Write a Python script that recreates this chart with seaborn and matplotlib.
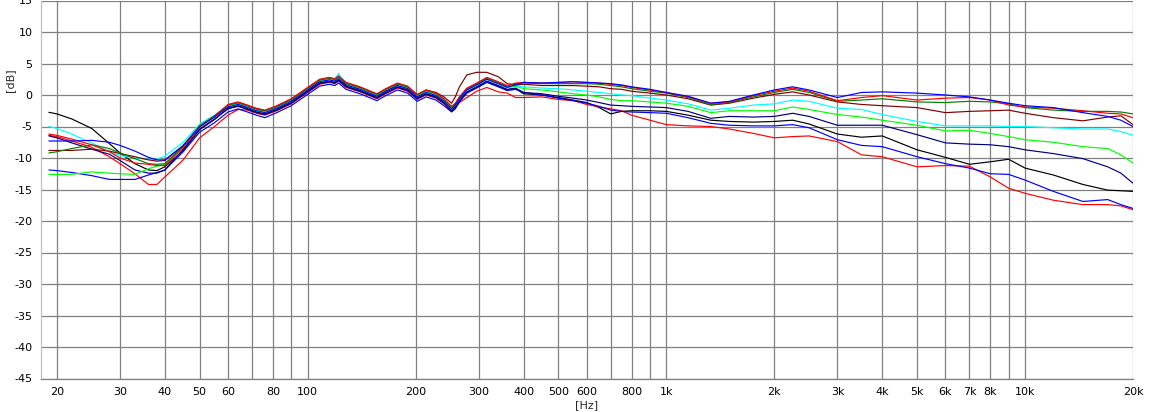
import matplotlib
matplotlib.use("Agg")
import matplotlib.pyplot as plt
import matplotlib.ticker as mticker
import numpy as np
import pandas as pd
import seaborn as sns

# ---------------- data ----------------
freq = [19, 20, 22, 25, 28, 30, 33, 36, 38, 40,
        45, 50, 55, 60,
        64, 68, 72, 76, 82, 90, 100, 108, 115, 119, 122, 128, 140, 156, 165, 178, 190, 202, 214, 228, 240, 252,
        258, 265, 278, 296, 316, 340, 360, 380,
        400, 450, 500, 550, 600, 650, 700, 750, 800, 900, 1000, 1150, 1330, 1500, 1750, 2000,
        2250, 2500, 3000, 3500, 4000, 5000, 6000, 7000, 8000, 9000, 10000, 12000, 14500, 17000, 18500, 20000]

blue_a = [-7.3, -7.3, -7.3, -7.2, -7.5, -8.0, -8.9, -9.9, -10.3, -10.3,
          -8.0, -5.0, -3.5, -1.9,
          -1.5, -2.0, -2.5, -2.8, -2.1, -1.0, 0.8, 2.1, 2.4, 2.2, 2.6, 1.6, 0.9, -0.2, 0.6, 1.5, 1.0, -0.3, 0.4, -0.1, -1.0, -2.2,
          -1.6, -0.6, 0.8, 1.6, 2.5, 1.8, 1.2, 1.6,
          2.0, 1.9, 2.0, 2.1, 2.0, 1.9, 1.8, 1.6, 1.3, 0.9, 0.4, -0.2, -1.3, -1.0, 0.0, 0.8,
          1.3, 0.8, -0.4, 0.4, 0.5, 0.3, 0.0, -0.3, -0.8, -1.3, -1.7, -2.0, -2.8, -3.4, -4.0, -5.0]

red_a = [-6.2, -6.4, -7.0, -7.9, -9.0, -10.0, -10.8, -11.0, -11.2, -11.2,
         -8.3, -5.1, -3.4, -1.5,
         -1.1, -1.6, -2.1, -2.4, -1.7, -0.6, 1.2, 2.5, 2.8, 2.6, 3.0, 2.0, 1.3, 0.2, 1.0, 1.9, 1.4, 0.1, 0.8, 0.3, -0.6, -1.8,
         -1.3, -0.3, 1.1, 1.9, 2.8, 2.1, 1.5, 1.9,
         2.0, 1.9, 2.0, 2.1, 2.0, 1.9, 1.7, 1.5, 1.2, 0.8, 0.4, -0.3, -1.3, -1.1, -0.1, 0.6,
         1.1, 0.6, -0.9, -0.4, -0.1, -0.8, -0.5, -0.4, -0.8, -1.6, -1.9, -2.1, -2.5, -2.9, -3.0, -3.6]

dkgreen = [-9.2, -9.0, -8.5, -7.9, -8.5, -9.2, -10.1, -10.9, -11.0, -10.9,
           -8.2, -4.9, -3.3, -1.6,
           -1.2, -1.7, -2.2, -2.5, -1.8, -0.7, 1.1, 2.4, 2.7, 2.5, 2.9, 1.9, 1.2, 0.1, 0.9, 1.8, 1.3, 0.0, 0.7, 0.2, -0.7, -1.9,
           -1.4, -0.4, 1.0, 1.8, 2.7, 2.0, 1.4, 1.8,
           1.9, 1.8, 1.8, 1.8, 1.8, 1.7, 1.5, 1.3, 1.0, 0.6, 0.3, -0.4, -1.5, -1.2, -0.3, 0.4,
           0.9, 0.4, -1.0, -0.8, -0.6, -1.1, -1.2, -1.0, -1.1, -1.4, -2.0, -2.4, -2.6, -2.6, -2.7, -3.0]

brown = [-8.8, -8.8, -8.8, -8.6, -8.9, -9.3, -9.8, -10.3, -10.5, -10.4,
         -8.1, -5.0, -3.4, -1.6,
         -1.2, -1.7, -2.2, -2.5, -1.8, -0.7, 1.1, 2.4, 2.7, 2.5, 2.9, 1.9, 1.2, 0.1, 0.9, 1.8, 1.3, 0.0, 0.8, 0.4, -0.3, -1.3,
         -0.3, 1.3, 3.2, 3.6, 3.6, 2.9, 1.8, 1.6,
         1.7, 1.5, 1.5, 1.5, 1.4, 1.3, 1.0, 0.9, 0.6, 0.3, 0.0, -0.6, -1.6, -1.3, -0.5, 0.1,
         0.5, 0.0, -1.1, -1.5, -1.7, -2.0, -2.8, -2.6, -2.5, -2.4, -2.9, -3.6, -4.1, -3.5, -3.3, -4.7]

cyan = [-5.0, -5.3, -6.2, -7.6, -9.0, -9.6, -10.0, -10.2, -10.2, -9.7,
        -7.5, -4.6, -3.2, -1.6,
        -1.3, -1.8, -2.3, -2.6, -1.9, -0.8, 1.0, 2.3, 2.6, 2.5, 3.4, 1.8, 1.1, 0.0, 0.8, 1.7, 1.2, -0.1, 0.6, 0.1, -0.8, -2.0,
        -1.5, -0.5, 0.9, 1.7, 2.6, 1.9, 1.3, 1.5,
        1.3, 1.1, 1.0, 0.8, 0.6, 0.4, 0.2, 0.0, -0.1, -0.5, -0.8, -1.4, -2.4, -2.1, -1.6, -1.4,
        -0.8, -1.0, -2.1, -2.3, -3.1, -4.2, -4.9, -4.9, -4.9, -5.0, -5.0, -5.2, -5.4, -5.4, -5.8, -6.4]

green = [-12.6, -12.6, -12.6, -12.2, -12.4, -12.5, -12.6, -11.7, -11.3, -11.0,
         -8.0, -4.8, -3.3, -1.7,
         -1.4, -1.9, -2.4, -2.7, -2.0, -0.9, 0.9, 2.2, 2.5, 2.3, 3.1, 1.7, 1.0, -0.1, 0.7, 1.6, 1.1, -0.2, 0.5, 0.0, -0.9, -2.1,
         -1.6, -0.6, 0.8, 1.6, 2.5, 1.8, 1.2, 1.4,
         1.0, 0.8, 0.5, 0.2, 0.0, -0.3, -0.7, -0.9, -0.9, -1.1, -1.3, -1.8, -2.8, -2.5, -2.5, -2.5,
         -1.9, -2.3, -3.1, -3.5, -4.0, -4.8, -5.7, -5.6, -6.1, -6.6, -7.1, -7.5, -8.2, -8.5, -9.5, -10.8]

navy = [-6.5, -6.8, -7.6, -8.6, -9.4, -10.4, -11.9, -12.4, -12.4, -11.9,
        -8.6, -5.4, -3.8, -2.2,
        -1.8, -2.3, -2.8, -3.1, -2.4, -1.3, 0.5, 1.8, 2.1, 1.9, 2.3, 1.3, 0.6, -0.5, 0.3, 1.2, 0.7, -0.6, 0.1, -0.4, -1.3, -2.5,
        -1.9, -0.9, 0.5, 1.3, 2.2, 1.5, 0.9, 1.1,
        0.4, 0.2, -0.2, -0.5, -0.8, -1.2, -1.6, -1.7, -1.8, -1.9, -2.0, -2.6, -3.7, -3.4, -3.5, -3.4,
        -2.9, -3.4, -4.8, -4.8, -4.8, -6.3, -7.6, -7.8, -7.9, -8.2, -8.7, -9.3, -10.1, -11.4, -12.4, -14.0]

black = [-2.75, -3.0, -3.8, -5.3, -7.7, -9.2, -10.9, -11.9, -12.0, -11.4,
         -8.8, -5.5, -3.9, -2.1,
         -1.7, -2.2, -2.7, -3.0, -2.3, -1.2, 0.6, 1.9, 2.2, 2.0, 2.4, 1.4, 0.7, -0.4, 0.4, 1.3, 0.8, -0.5, 0.2, -0.3, -1.2, -2.6,
         -2.1, -1.0, 0.4, 1.2, 2.1, 1.4, 0.8, 1.0,
         0.2, 0.0, -0.4, -0.8, -1.2, -2.0, -3.0, -2.6, -2.5, -2.5, -2.6, -3.2, -4.0, -4.2, -4.3, -4.2,
         -4.0, -4.6, -6.2, -6.7, -6.5, -8.7, -9.9, -11.0, -10.6, -10.2, -11.6, -12.7, -14.2, -15.1, -15.2, -15.3]

blue_b = [-11.9, -12.0, -12.3, -12.8, -13.4, -13.4, -13.4, -12.7, -12.3, -11.9,
          -9.0, -5.9, -4.4, -2.7,
          -2.2, -2.7, -3.2, -3.6, -2.8, -1.7, 0.1, 1.4, 1.7, 1.5, 1.9, 0.9, 0.2, -0.9, -0.1, 0.8, 0.3, -1.0, -0.3, -0.8, -1.7, -2.7,
          -2.2, -1.1, 0.3, 1.1, 2.0, 1.3, 0.7, 0.9,
          0.4, 0.0, -0.5, -0.9, -1.3, -1.8, -2.4, -2.6, -2.7, -2.8, -2.9, -3.6, -4.5, -4.8, -4.9, -4.9,
          -4.7, -5.2, -7.1, -8.0, -8.2, -9.8, -10.9, -11.6, -12.5, -12.6, -13.5, -15.3, -16.9, -16.6, -17.4, -18.0]

red_b = [-6.4, -6.6, -7.3, -8.3, -9.8, -10.9, -12.5, -14.2, -14.2, -13.0,
         -10.3, -6.8, -5.0, -3.2,
         -2.3, -2.4, -2.9, -3.2, -2.5, -1.4, 0.4, 1.7, 2.0, 1.8, 2.2, 1.2, 0.5, -0.6, 0.2, 1.1, 0.6, -0.7, 0.0, -0.5, -1.4, -2.5,
         -1.9, -1.2, -0.4, 0.6, 1.2, 0.5, 0.3, -0.4,
         -0.4, -0.3, -0.7, -0.9, -1.5, -1.9, -2.2, -2.5, -3.2, -4.0, -4.7, -4.9, -5.0, -5.4, -6.1, -6.8,
         -6.6, -6.5, -7.4, -9.5, -9.8, -11.4, -11.2, -11.3, -13.0, -14.8, -15.6, -16.7, -17.4, -17.4, -17.6, -18.2]

series = {
    "c08": black, "c10": red_b, "c09": blue_b, "c07": navy, "c06": green,
    "c05": cyan, "c04": brown, "c03": dkgreen, "c02": red_a, "c01": blue_a,
}
colors = {
    "c01": "#0000FF", "c02": "#FF0000", "c03": "#008000", "c04": "#800000",
    "c05": "#00FFFF", "c06": "#00FF00", "c07": "#000080", "c08": "#000000",
    "c09": "#0000FF", "c10": "#FF0000",
}

xtick_vals = [20, 30, 40, 50, 60, 70, 80, 90, 100, 200, 300, 400, 500, 600, 700, 800, 900,
              1000, 2000, 3000, 4000, 5000, 6000, 7000, 8000, 9000, 10000, 20000]
xtick_labels = ["20", "30", "40", "50", "60", "", "80", "", "100", "200", "300", "400", "500", "600", "", "800", "",
                "1k", "2k", "3k", "4k", "5k", "6k", "7k", "8k", "", "10k", "20k"]
ytick_vals = list(range(-45, 16, 5))

# ---------------- build table ----------------
rows = []
for name, vals in series.items():
    assert len(vals) == len(freq), name
    for f, v in zip(freq, vals):
        rows.append({"freq": f, "dB": v, "curve": name})
df = pd.DataFrame(rows)

sns.set_style("white")
plt.rcParams["font.family"] = ["DejaVu Sans"]

W, H = 1150, 412
fig = plt.figure(figsize=(W / 100, H / 100), dpi=100)
ax = fig.add_axes([41 / W, 33.5 / H, 1092 / W, 378 / H])
ax.set_xscale("log")

sns.lineplot(data=df, x="freq", y="dB", hue="curve", hue_order=list(series.keys()),
             palette=colors, estimator=None, sort=False, legend=False,
             linewidth=0.85, ax=ax)

ax.set_xlim(18.06, 20000)
ax.set_ylim(-45, 15)
ax.xaxis.set_minor_locator(mticker.NullLocator())
ax.set_xticks(xtick_vals)
ax.set_xticklabels(xtick_labels)
ax.set_yticks(ytick_vals)
ax.set_yticklabels([str(v) for v in ytick_vals])
ax.set_xlabel("")
ax.set_ylabel("")

ax.grid(True, color="#808080", linewidth=0.9)
ax.set_axisbelow(True)
for s in ["top", "right"]:
    ax.spines[s].set_visible(False)
ax.spines["left"].set_color("#c0c0c0")
ax.spines["bottom"].set_color("#808080")
ax.spines["left"].set_linewidth(0.9)
ax.spines["bottom"].set_linewidth(0.9)
ax.tick_params(axis="both", direction="out", length=4, width=0.9, color="#808080",
               labelsize=8, labelcolor="black", pad=2)

fig.text(10 / W, 1 - 80 / H, "[dB]", rotation=90, ha="center", va="center", fontsize=8)
fig.text(587 / W, 1 - 405 / H, "[Hz]", ha="center", va="center", fontsize=8)

fig.savefig("out.png", dpi=100)
